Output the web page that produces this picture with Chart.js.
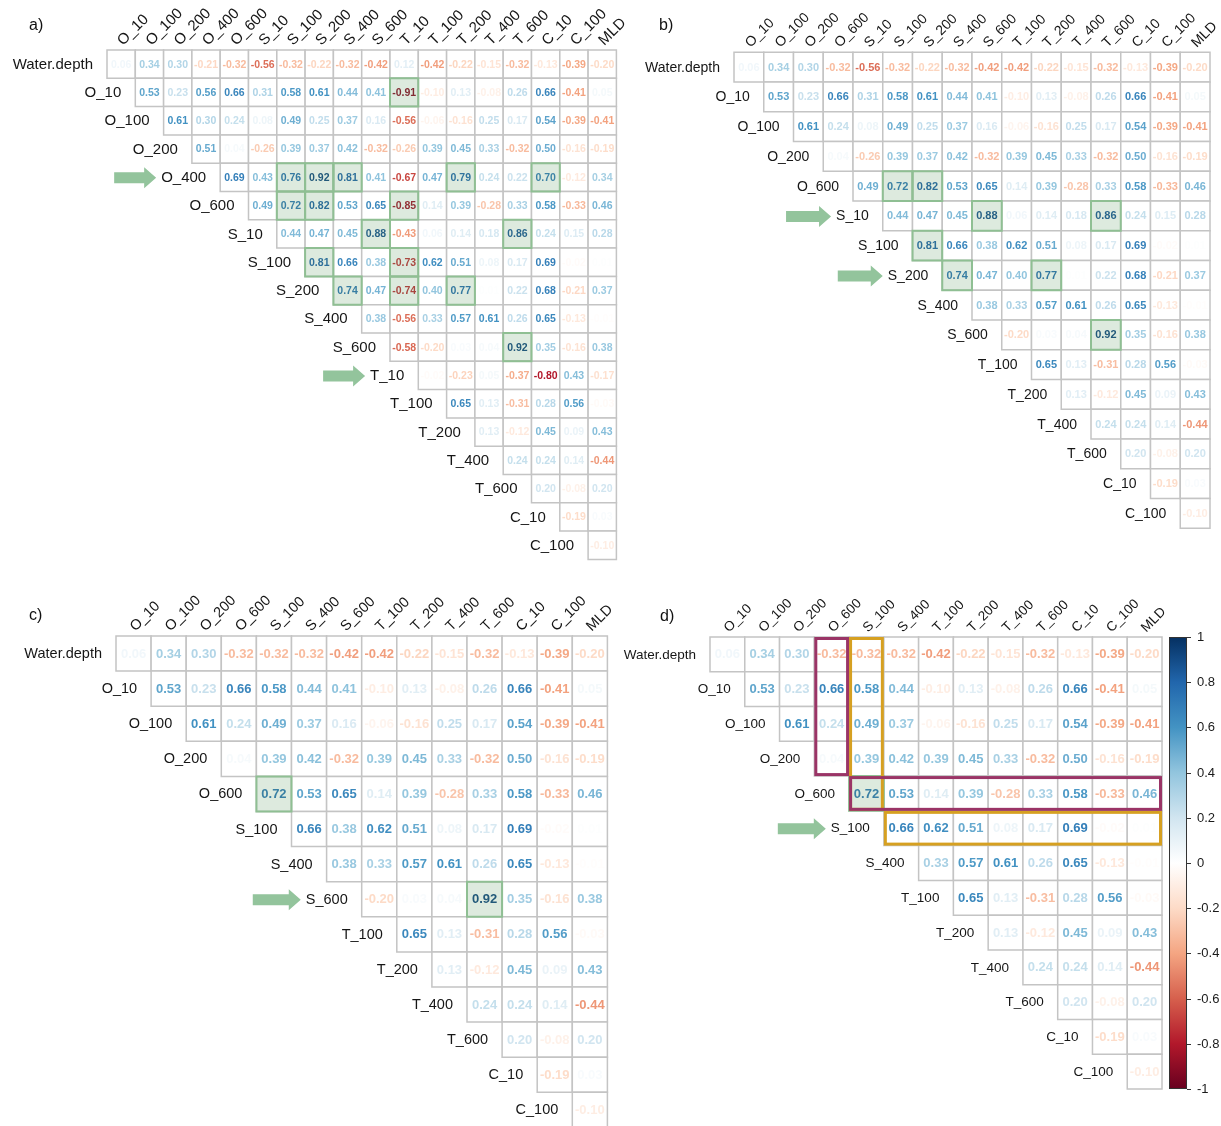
<!DOCTYPE html>
<html>
<head>
<meta charset="utf-8">
<script src="https://cdn.jsdelivr.net/npm/chart.js@4.4.1/dist/chart.umd.min.js"></script>
<style>
  html, body { margin: 0; padding: 0; background: #fff; overflow: hidden; width: 1221px; height: 1126px; }
  canvas { position: absolute; }
</style>
</head>
<body>
<canvas id="pa" width="660" height="580" style="left:0px;top:0px"></canvas>
<canvas id="pb" width="621" height="580" style="left:600px;top:0px"></canvas>
<canvas id="pc" width="660" height="572" style="left:0px;top:568px"></canvas>
<canvas id="pd" width="621" height="572" style="left:600px;top:568px"></canvas>
<script>
// ---- variables (in matrix order) ----
const variables = ['Water.depth', 'O_10', 'O_100', 'O_200', 'O_400', 'O_600', 'S_10', 'S_100', 'S_200',
  'S_400', 'S_600', 'T_10', 'T_100', 'T_200', 'T_400', 'T_600', 'C_10', 'C_100', 'MLD'];

// ---- correlation coefficients: each row holds r with every later variable ----
const corWaterDepth = [0.06, 0.34, 0.30, -0.21, -0.32, -0.56, -0.32, -0.22, -0.32, -0.42, 0.12, -0.42, -0.22, -0.15, -0.32, -0.13, -0.39, -0.20];
const corO10 = [0.53, 0.23, 0.56, 0.66, 0.31, 0.58, 0.61, 0.44, 0.41, -0.91, -0.10, 0.13, -0.08, 0.26, 0.66, -0.41, 0.05];
const corO100 = [0.61, 0.30, 0.24, 0.08, 0.49, 0.25, 0.37, 0.16, -0.56, -0.06, -0.16, 0.25, 0.17, 0.54, -0.39, -0.41];
const corO200 = [0.51, 0.04, -0.26, 0.39, 0.37, 0.42, -0.32, -0.26, 0.39, 0.45, 0.33, -0.32, 0.50, -0.16, -0.19];
const corO400 = [0.69, 0.43, 0.76, 0.92, 0.81, 0.41, -0.67, 0.47, 0.79, 0.24, 0.22, 0.70, -0.12, 0.34];
const corO600 = [0.49, 0.72, 0.82, 0.53, 0.65, -0.85, 0.14, 0.39, -0.28, 0.33, 0.58, -0.33, 0.46];
const corS10 = [0.44, 0.47, 0.45, 0.88, -0.43, 0.06, 0.14, 0.18, 0.86, 0.24, 0.15, 0.28];
const corS100 = [0.81, 0.66, 0.38, -0.73, 0.62, 0.51, 0.08, 0.17, 0.69, -0.02, 0.01];
const corS200 = [0.74, 0.47, -0.74, 0.40, 0.77, 0.01, 0.22, 0.68, -0.21, 0.37];
const corS400 = [0.38, -0.56, 0.33, 0.57, 0.61, 0.26, 0.65, -0.13, -0.01];
const corS600 = [-0.58, -0.20, 0.03, 0.04, 0.92, 0.35, -0.16, 0.38];
const corT10 = [-0.02, -0.23, 0.05, -0.37, -0.80, 0.43, -0.17];
const corT100 = [0.65, 0.13, -0.31, 0.28, 0.56, -0.03];
const corT200 = [0.13, -0.12, 0.45, 0.09, 0.43];
const corT400 = [0.24, 0.24, 0.14, -0.44];
const corT600 = [0.20, -0.08, 0.20];
const corC10 = [-0.19, 0.03];
const corC100 = [-0.10];
const corRows = [corWaterDepth, corO10, corO100, corO200, corO400, corO600, corS10, corS100, corS200,
  corS400, corS600, corT10, corT100, corT200, corT400, corT600, corC10, corC100];

// ---- variable sets kept in each panel ----
const varsA = variables.slice();
const varsB = ['Water.depth', 'O_10', 'O_100', 'O_200', 'O_600', 'S_10', 'S_100', 'S_200', 'S_400', 'S_600',
  'T_100', 'T_200', 'T_400', 'T_600', 'C_10', 'C_100', 'MLD'];
const varsC = ['Water.depth', 'O_10', 'O_100', 'O_200', 'O_600', 'S_100', 'S_400', 'S_600',
  'T_100', 'T_200', 'T_400', 'T_600', 'C_10', 'C_100', 'MLD'];
const varsD = ['Water.depth', 'O_10', 'O_100', 'O_200', 'O_600', 'S_100', 'S_400',
  'T_100', 'T_200', 'T_400', 'T_600', 'C_10', 'C_100', 'MLD'];

// ---- strongly correlated pairs shaded green ----
const markedA = [['O_10', 'T_10'], ['O_400', 'S_100'], ['O_400', 'S_200'], ['O_400', 'S_400'], ['O_400', 'T_200'],
  ['O_400', 'C_10'], ['O_600', 'S_100'], ['O_600', 'S_200'], ['O_600', 'T_10'], ['S_10', 'S_600'], ['S_10', 'T_600'],
  ['S_100', 'S_200'], ['S_100', 'T_10'], ['S_200', 'S_400'], ['S_200', 'T_10'], ['S_200', 'T_200'], ['S_600', 'T_600']];
const markedB = [['O_600', 'S_100'], ['O_600', 'S_200'], ['S_10', 'S_600'], ['S_10', 'T_600'], ['S_100', 'S_200'],
  ['S_200', 'S_400'], ['S_200', 'T_200'], ['S_600', 'T_600']];
const markedC = [['O_600', 'S_100'], ['S_600', 'T_600']];
const markedD = [['O_600', 'S_100']];

// ---- rows pointed at by arrows ----
const arrowsA = ['O_400', 'T_10'];
const arrowsB = ['S_10', 'S_200'];
const arrowsC = ['S_600'];
const arrowsD = ['S_100'];

// ---- outlined blocks in panel d: [firstRow, lastRow, firstCol, lastCol] ----
const purpleBlocks = [['Water.depth', 'O_200', 'O_600', 'O_600'], ['O_600', 'O_600', 'S_100', 'MLD']];
const goldBlocks = [['Water.depth', 'O_600', 'S_100', 'S_100'], ['S_100', 'S_100', 'S_400', 'MLD']];

// ---- colour bar ticks ----
const colorbarTicks = [1, 0.8, 0.6, 0.4, 0.2, 0, -0.2, -0.4, -0.6, -0.8, -1];

// RdBu ramp from -1 to 1
const rdbuStops = ['#67001F', '#B2182B', '#D6604D', '#F4A582', '#FDDBC7', '#FFFFFF',
  '#D1E5F0', '#92C5DE', '#4393C3', '#2166AC', '#053061'];

const FONT = '"Liberation Sans", Arial, Helvetica, sans-serif';
Chart.defaults.font.family = FONT;

function corr(a, b) {
  let i = variables.indexOf(a), j = variables.indexOf(b);
  if (i > j) { const t = i; i = j; j = t; }
  return corRows[i][j - i - 1];
}

function hexRgb(h) {
  return [parseInt(h.slice(1, 3), 16), parseInt(h.slice(3, 5), 16), parseInt(h.slice(5, 7), 16)];
}
function rdbu(v) {
  const t = (v + 1) / 2 * (rdbuStops.length - 1);
  const i = Math.max(0, Math.min(Math.floor(t), rdbuStops.length - 2));
  const f = t - i;
  const a = hexRgb(rdbuStops[i]), b = hexRgb(rdbuStops[i + 1]);
  const c = a.map((x, k) => Math.round(x + (b[k] - x) * f));
  return `rgb(${c[0]},${c[1]},${c[2]})`;
}

function cellRadius(ctx) {
  const s = ctx.chart.scales.x;
  if (!s) return 10;
  return Math.abs(s.getPixelForValue(1) - s.getPixelForValue(0)) / Math.SQRT2;
}

function drawArrow(ctx, tipX, y, len) {
  const head = 12, hh = 10.5, hs = 5.5;
  ctx.beginPath();
  ctx.moveTo(tipX - len, y - hs);
  ctx.lineTo(tipX - head, y - hs);
  ctx.lineTo(tipX - head, y - hh);
  ctx.lineTo(tipX, y);
  ctx.lineTo(tipX - head, y + hh);
  ctx.lineTo(tipX - head, y + hs);
  ctx.lineTo(tipX - len, y + hs);
  ctx.closePath();
  ctx.fillStyle = '#93c49c';
  ctx.fill();
}

function buildPanel(p) {
  const rows = p.vars.slice(0, -1);
  const cols = p.vars.slice(1);
  const n = cols.length;
  const cells = [];
  rows.forEach((r, i) => {
    for (let j = i; j < n; j++) cells.push({ x: j, y: i, v: corr(r, cols[j]) });
  });
  const shaded = p.marked.map(([r, c]) => ({ x: cols.indexOf(c), y: rows.indexOf(r) }));

  const [gl, gt, cell] = p.grid;
  const [cx, cy, cw, ch] = p.box;
  const padding = {
    left: gl - cx,
    top: gt - cy,
    right: cx + cw - (gl + n * cell),
    bottom: cy + ch - (gt + n * cell)
  };

  const scales = {
    x: { type: 'linear', min: -0.5, max: n - 0.5, display: false },
    y: { type: 'linear', min: -0.5, max: n - 0.5, reverse: true, display: false }
  };
  if (p.colorbar) scales.cb = { type: 'linear', axis: 'y', min: -1, max: 1, display: false };

  const plugin = {
    id: 'corrPanel_' + p.id,
    afterDatasetDraw(chart, args) {
      if (args.index !== 0) return;
      const ctx = chart.ctx;
      const data = chart.data.datasets[0].data;
      ctx.save();
      ctx.font = `bold ${p.numPx}px ${FONT}`;
      ctx.textAlign = 'center';
      ctx.textBaseline = 'middle';
      args.meta.data.forEach((pt, k) => {
        const v = data[k].v;
        ctx.fillStyle = rdbu(v);
        ctx.fillText(v.toFixed(2), pt.x, pt.y + 0.5);
      });
      ctx.restore();
    },
    afterDraw(chart) {
      const ctx = chart.ctx;
      const xs = chart.scales.x, ys = chart.scales.y;
      const area = chart.chartArea;
      ctx.save();
      ctx.fillStyle = '#161616';
      ctx.font = `${p.labelPx}px ${FONT}`;

      // column labels, slanted
      ctx.textAlign = 'left';
      ctx.textBaseline = 'middle';
      cols.forEach((c, j) => {
        ctx.save();
        ctx.translate(xs.getPixelForValue(j) - 1, area.top - 7);
        ctx.rotate(-Math.PI / 4);
        ctx.fillText(c, 0, 0);
        ctx.restore();
      });

      // row labels at the diagonal, with arrows
      ctx.textAlign = 'right';
      rows.forEach((r, i) => {
        const xr = xs.getPixelForValue(i - 0.5) - 14;
        const y = ys.getPixelForValue(i);
        ctx.fillStyle = '#161616';
        ctx.fillText(r, xr, y + 0.5);
        if (p.arrows.includes(r)) {
          const w = ctx.measureText(r).width;
          drawArrow(ctx, xr - w - 5, y + 0.5, p.arrowLen);
        }
      });

      // panel tag
      ctx.fillStyle = '#111';
      ctx.font = `16px ${FONT}`;
      ctx.textAlign = 'left';
      ctx.textBaseline = 'alphabetic';
      ctx.fillText(p.tag, p.tagAt[0] - cx, p.tagAt[1] - cy);

      // outlined blocks
      (p.blocks || []).forEach(([color, list]) => {
        ctx.strokeStyle = color;
        ctx.lineWidth = 3;
        list.forEach(([r0, r1, c0, c1]) => {
          const x0 = xs.getPixelForValue(cols.indexOf(c0) - 0.5) + 1.5;
          const x1 = xs.getPixelForValue(cols.indexOf(c1) + 0.5) - 1.5;
          const y0 = ys.getPixelForValue(rows.indexOf(r0) - 0.5) + 1.5;
          const y1 = ys.getPixelForValue(rows.indexOf(r1) + 0.5) - 1.5;
          ctx.strokeRect(x0, y0, x1 - x0, y1 - y0);
        });
      });

      // colour bar
      if (p.colorbar) {
        const cb = chart.scales.cb;
        const top = cb.getPixelForValue(1), bot = cb.getPixelForValue(-1);
        const bx = area.right + 7, bw = 18;
        const g = ctx.createLinearGradient(0, top, 0, bot);
        rdbuStops.slice().reverse().forEach((c, k) => g.addColorStop(k / (rdbuStops.length - 1), c));
        ctx.fillStyle = g;
        ctx.fillRect(bx, top, bw, bot - top);
        ctx.strokeStyle = '#333';
        ctx.lineWidth = 1;
        ctx.strokeRect(bx + 0.5, top + 0.5, bw - 1, bot - top - 1);
        ctx.font = `13px ${FONT}`;
        ctx.textAlign = 'left';
        ctx.textBaseline = 'middle';
        ctx.fillStyle = '#1a1a1a';
        colorbarTicks.forEach((t) => {
          const y = Math.round(cb.getPixelForValue(t)) + 0.5;
          ctx.beginPath();
          ctx.moveTo(bx + bw, y);
          ctx.lineTo(bx + bw + 4, y);
          ctx.stroke();
          ctx.fillText(String(t), bx + bw + 10, y);
        });
      }
      ctx.restore();
    }
  };

  return new Chart(document.getElementById(p.id), {
    type: 'scatter',
    data: {
      datasets: [
        {
          data: cells,
          pointStyle: 'rect',
          pointRadius: cellRadius,
          pointHoverRadius: cellRadius,
          backgroundColor: '#ffffff',
          borderColor: '#c4c4c4',
          borderWidth: 1.5,
          hoverBorderWidth: 1.5,
          order: 1,
          clip: false
        },
        {
          data: shaded,
          pointStyle: 'rect',
          pointRadius: cellRadius,
          pointHoverRadius: cellRadius,
          backgroundColor: 'rgba(100,160,105,0.22)',
          borderColor: '#8fbf93',
          borderWidth: 2,
          order: 0,
          clip: false
        }
      ]
    },
    options: {
      responsive: false,
      animation: false,
      events: [],
      layout: { padding },
      scales,
      plugins: { legend: { display: false }, tooltip: { enabled: false } }
    },
    plugins: [plugin]
  });
}

// panel placement: box = canvas [left, top, width, height]; grid = [left, top, cell size]
buildPanel({ id: 'pa', box: [0, 0, 660, 580], grid: [107, 50, 28.3], vars: varsA, marked: markedA,
  arrows: arrowsA, tag: 'a)', tagAt: [29, 30], labelPx: 15, numPx: 10.5, arrowLen: 42 });
buildPanel({ id: 'pb', box: [600, 0, 621, 580], grid: [734, 52.3, 29.75], vars: varsB, marked: markedB,
  arrows: arrowsB, tag: 'b)', tagAt: [659, 30], labelPx: 14, numPx: 11, arrowLen: 45 });
buildPanel({ id: 'pc', box: [0, 568, 660, 572], grid: [116, 636, 35.1], vars: varsC, marked: markedC,
  arrows: arrowsC, tag: 'c)', tagAt: [29, 620], labelPx: 14.5, numPx: 13, arrowLen: 48 });
buildPanel({ id: 'pd', box: [600, 568, 621, 572], grid: [710, 637, 34.77], vars: varsD, marked: markedD,
  arrows: arrowsD, tag: 'd)', tagAt: [660, 621], labelPx: 13.5, numPx: 13, arrowLen: 48,
  blocks: [['#d6a021', goldBlocks], ['#9a3466', purpleBlocks]], colorbar: true });
</script>
</body>
</html>
